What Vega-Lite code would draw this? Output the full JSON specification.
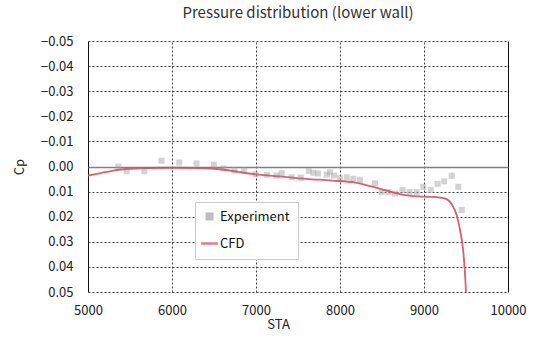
{
  "$schema": "https://vega.github.io/schema/vega-lite/v6.json",
  "width": 420,
  "height": 251,
  "autosize": {"type": "none"},
  "padding": {"left": 88, "top": 41, "right": 26, "bottom": 48},
  "background": "white",
  "config": {
    "view": {"stroke": null},
    "font": "Noto Sans CJK JP"
  },
  "title": {"text": "Pressure distribution (lower wall)", "fontSize": 15, "fontWeight": "normal", "color": "#333", "offset": 14, "anchor": "middle"},
  "datasets": {
    "exp": [
      {"sta": 5361, "cp": 0.0000, "series": "Experiment"},
      {"sta": 5461, "cp": 0.0019, "series": "Experiment"},
      {"sta": 5670, "cp": 0.0019, "series": "Experiment"},
      {"sta": 5875, "cp": -0.0023, "series": "Experiment"},
      {"sta": 6087, "cp": -0.0016, "series": "Experiment"},
      {"sta": 6292, "cp": -0.0012, "series": "Experiment"},
      {"sta": 6498, "cp": -0.0007, "series": "Experiment"},
      {"sta": 6613, "cp": 0.0008, "series": "Experiment"},
      {"sta": 6744, "cp": 0.0016, "series": "Experiment"},
      {"sta": 6860, "cp": 0.0016, "series": "Experiment"},
      {"sta": 6994, "cp": 0.0031, "series": "Experiment"},
      {"sta": 7129, "cp": 0.0033, "series": "Experiment"},
      {"sta": 7244, "cp": 0.0036, "series": "Experiment"},
      {"sta": 7306, "cp": 0.0027, "series": "Experiment"},
      {"sta": 7425, "cp": 0.0043, "series": "Experiment"},
      {"sta": 7533, "cp": 0.0044, "series": "Experiment"},
      {"sta": 7629, "cp": 0.0018, "series": "Experiment"},
      {"sta": 7682, "cp": 0.0025, "series": "Experiment"},
      {"sta": 7738, "cp": 0.0028, "series": "Experiment"},
      {"sta": 7842, "cp": 0.0032, "series": "Experiment"},
      {"sta": 7881, "cp": 0.0023, "series": "Experiment"},
      {"sta": 7929, "cp": 0.0036, "series": "Experiment"},
      {"sta": 8000, "cp": 0.0045, "series": "Experiment"},
      {"sta": 8080, "cp": 0.0043, "series": "Experiment"},
      {"sta": 8158, "cp": 0.0049, "series": "Experiment"},
      {"sta": 8238, "cp": 0.0053, "series": "Experiment"},
      {"sta": 8417, "cp": 0.0067, "series": "Experiment"},
      {"sta": 8496, "cp": 0.0102, "series": "Experiment"},
      {"sta": 8575, "cp": 0.0102, "series": "Experiment"},
      {"sta": 8655, "cp": 0.0108, "series": "Experiment"},
      {"sta": 8746, "cp": 0.0094, "series": "Experiment"},
      {"sta": 8827, "cp": 0.0102, "series": "Experiment"},
      {"sta": 8913, "cp": 0.0102, "series": "Experiment"},
      {"sta": 8992, "cp": 0.0081, "series": "Experiment"},
      {"sta": 9080, "cp": 0.0093, "series": "Experiment"},
      {"sta": 9161, "cp": 0.0069, "series": "Experiment"},
      {"sta": 9240, "cp": 0.0059, "series": "Experiment"},
      {"sta": 9330, "cp": 0.0037, "series": "Experiment"},
      {"sta": 9408, "cp": 0.0081, "series": "Experiment"},
      {"sta": 9449, "cp": 0.0173, "series": "Experiment"}
    ],
    "cfd": [
      {"sta": 5000, "cp": 0.0036, "series": "CFD"},
      {"sta": 5150, "cp": 0.0026, "series": "CFD"},
      {"sta": 5300, "cp": 0.0016, "series": "CFD"},
      {"sta": 5450, "cp": 0.0010, "series": "CFD"},
      {"sta": 5700, "cp": 0.0006, "series": "CFD"},
      {"sta": 6000, "cp": 0.0005, "series": "CFD"},
      {"sta": 6300, "cp": 0.0006, "series": "CFD"},
      {"sta": 6600, "cp": 0.0012, "series": "CFD"},
      {"sta": 6800, "cp": 0.0022, "series": "CFD"},
      {"sta": 7000, "cp": 0.0031, "series": "CFD"},
      {"sta": 7300, "cp": 0.0040, "series": "CFD"},
      {"sta": 7600, "cp": 0.0049, "series": "CFD"},
      {"sta": 7900, "cp": 0.0056, "series": "CFD"},
      {"sta": 8180, "cp": 0.0064, "series": "CFD"},
      {"sta": 8480, "cp": 0.0089, "series": "CFD"},
      {"sta": 8770, "cp": 0.0114, "series": "CFD"},
      {"sta": 9000, "cp": 0.0120, "series": "CFD"},
      {"sta": 9200, "cp": 0.0124, "series": "CFD"},
      {"sta": 9280, "cp": 0.0132, "series": "CFD"},
      {"sta": 9330, "cp": 0.0150, "series": "CFD"},
      {"sta": 9390, "cp": 0.0195, "series": "CFD"},
      {"sta": 9430, "cp": 0.0255, "series": "CFD"},
      {"sta": 9465, "cp": 0.0330, "series": "CFD"},
      {"sta": 9488, "cp": 0.0426, "series": "CFD"},
      {"sta": 9500, "cp": 0.0500, "series": "CFD"}
    ]
  },
  "encoding": {
    "x": {
      "field": "sta", "type": "quantitative",
      "scale": {"domain": [5000, 10000], "nice": false, "zero": false},
      "axis": {
        "values": [5000, 6000, 7000, 8000, 9000, 10000], "format": "d",
        "ticks": false, "domain": false, "grid": true,
        "gridColor": {"condition": {"test": "datum.value === 10000 || datum.value === 5000", "value": "#111"}, "value": "#444"},
        "gridDash": {"condition": {"test": "datum.value === 10000 || datum.value === 5000", "value": []}, "value": [2, 2]},
        "gridWidth": 1,
        "labelFontSize": 13, "labelColor": "#222", "labelPadding": 12,
        "labelOverlap": false, "labelFlush": false, "labelBound": false,
        "title": "STA", "titleFontSize": 13, "titleFontWeight": "normal", "titleColor": "#222",
        "titlePadding": 1, "titleX": 190
      }
    },
    "y": {
      "field": "cp", "type": "quantitative",
      "scale": {"domain": [-0.05, 0.05], "nice": false, "zero": false, "reverse": true},
      "axis": {
        "values": [-0.05, -0.04, -0.03, -0.02, -0.01, 0, 0.01, 0.02, 0.03, 0.04, 0.05],
        "format": ".2f", "ticks": false, "domain": false,
        "grid": true,
        "gridColor": {"condition": {"test": "datum.value === 0", "value": "#808080"}, "value": "#444"},
        "gridDash": {"condition": {"test": "datum.value === 0", "value": []}, "value": [2, 2]},
        "gridWidth": {"condition": {"test": "datum.value === 0", "value": 1.5}, "value": 1},
        "labelFontSize": 13, "labelColor": "#222", "labelPadding": 15,
        "labelOverlap": false, "labelFlush": false, "labelBound": false,
        "title": "Cp", "titleFontSize": 13, "titleFontWeight": "normal", "titleColor": "#222",
        "titlePadding": 14
      }
    },
    "color": {
      "field": "series", "type": "nominal",
      "scale": {"domain": ["Experiment", "CFD"], "range": ["#a8a8a8", "#d2506a"]},
      "legend": {
        "title": null, "orient": "none", "legendX": 107, "legendY": 161,
        "fillColor": "white", "strokeColor": "#cccccc", "padding": 8,
        "rowPadding": 13, "labelFontSize": 13, "labelColor": "#111",
        "symbolOpacity": 0.75, "labelOffset": 4,
        "encode": {
          "symbols": {
            "update": {
              "stroke": {"scale": "color", "field": "value"},
              "strokeWidth": {"signal": "datum.value === 'CFD' ? 2.5 : 0"},
              "size": {"signal": "datum.value === 'CFD' ? 280 : 64"}
            }
          }
        }
      }
    }
  },
  "layer": [
    {
      "data": {"name": "exp"},
      "mark": {"type": "point", "filled": true, "size": 36, "opacity": 0.5},
      "encoding": {
        "shape": {
          "field": "series", "type": "nominal",
          "scale": {"domain": ["Experiment", "CFD"], "range": ["square", "stroke"]}
        }
      }
    },
    {
      "data": {"name": "cfd"},
      "mark": {"type": "line", "interpolate": "monotone", "strokeWidth": 1.8, "opacity": 0.9}
    }
  ]
}
